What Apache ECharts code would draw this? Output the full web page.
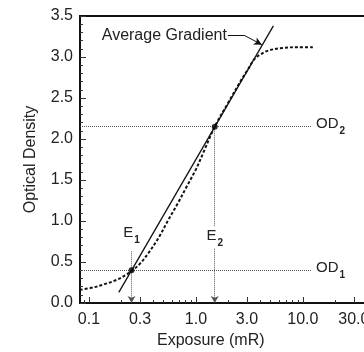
<!DOCTYPE html>
<html>
<head>
<meta charset="utf-8">
<script src="https://cdn.jsdelivr.net/npm/echarts@6/dist/echarts.min.js"></script>
<style>
  html, body { margin: 0; padding: 0; background: #fff; }
  #chart { width: 364px; height: 352px; }
</style>
</head>
<body>
<div id="chart"></div>
<script>
// exposure axis is drawn as log10(mR) on a value axis
const font = 'Liberation Sans, Arial, sans-serif';
const ink = '#222';

const exposureLabels = [0.1, 0.3, 1, 3, 10, 30];
const exposureMinorTicks = [0.09, 0.2, 0.4, 0.5, 0.6, 0.7, 0.8, 0.9, 2, 4, 5, 6, 7, 8, 9, 20, 40];

// H&D curve (dotted)
const curveExposure = [0.082, 0.11, 0.14, 0.18, 0.22, 0.25, 0.3, 0.36, 0.45, 0.55, 0.68, 0.82, 1.0, 1.17, 1.5, 2.0, 2.6, 3.1, 3.5, 4.0, 4.8, 6.5, 9.0, 12.4];
const curveDensity = [0.16, 0.19, 0.23, 0.28, 0.34, 0.39, 0.48, 0.61, 0.80, 1.01, 1.22, 1.42, 1.63, 1.83, 2.15, 2.44, 2.70, 2.86, 2.97, 3.03, 3.08, 3.11, 3.12, 3.12];

// average gradient line
const gradientExposure = [0.19, 5.3];
const gradientDensity = [0.13, 3.38];

// reference points
const E1 = 0.25, OD1 = 0.40;
const E2 = 1.5, OD2 = 2.15;
const odLineEnd = 12.2;
const e1LineTop = 0.63;
const e2LabelDensity = 0.80;
// leader from the "Average Gradient" text to the line
const leaderStart = [1.99, 3.26];
const leaderBend = [2.87, 3.26];
const leaderEnd = [4.14, 3.15];

const lg = v => Math.log10(v);
const toXY = (xs, ys) => xs.map((x, i) => [lg(x), ys[i]]);
const pt = p => [lg(p[0]), p[1]];

const refLine = { color: '#555', width: 1, type: [1, 1] };
const subRich = {
  m: { fontSize: 15, color: ink, fontFamily: font, verticalAlign: 'top', lineHeight: 16 },
  s: { fontSize: 10, fontWeight: 'bold', color: ink, fontFamily: font, verticalAlign: 'bottom', lineHeight: 20, padding: [0, 0, 0, 1] }
};

const chart = echarts.init(document.getElementById('chart'));

chart.setOption({
  animation: false,
  textStyle: { fontFamily: font },
  title: {
    text: 'Exposure (mR)',
    left: 157, top: 333, padding: 0,
    textStyle: { fontSize: 16, fontWeight: 'normal', color: ink, fontFamily: font }
  },
  grid: {
    left: 80, top: 16, width: 287, height: 287,
    outerBoundsMode: 'none',
    show: true, borderColor: '#111', borderWidth: 2
  },
  xAxis: [{
    type: 'value',
    min: -1.084, max: 1.6,
    splitLine: { show: false },
    axisLine: { onZero: false, lineStyle: { color: '#111', width: 2 } },
    axisTick: { inside: true, length: 6, lineStyle: { color: '#333' }, customValues: exposureLabels.map(lg) },
    axisLabel: {
      customValues: exposureLabels.map(lg),
      formatter: v => Math.pow(10, v).toFixed(1),
      fontSize: 16, color: ink, margin: 9, fontFamily: font
    }
  }, {
    type: 'value',
    min: -1.084, max: 1.6,
    position: 'bottom',
    splitLine: { show: false },
    axisLine: { show: false, onZero: false },
    axisTick: { inside: true, length: 3, lineStyle: { color: '#333' }, customValues: exposureMinorTicks.map(lg) },
    axisLabel: { show: false }
  }],
  yAxis: {
    type: 'value',
    min: 0, max: 3.5, interval: 0.5,
    name: 'Optical Density',
    nameLocation: 'middle',
    nameGap: 41,
    nameTextStyle: { fontSize: 16, color: ink, fontFamily: font },
    splitLine: { show: false },
    axisLine: { onZero: false, lineStyle: { color: '#111', width: 2 } },
    axisTick: { inside: true, length: 6, lineStyle: { color: '#333' } },
    minorTick: { show: true, splitNumber: 5, length: 3, lineStyle: { color: '#333' } },
    axisLabel: { formatter: v => v.toFixed(1), fontSize: 16, color: ink, margin: 7, fontFamily: font }
  },
  series: [{
    name: 'curve',
    type: 'line',
    data: toXY(curveExposure, curveDensity),
    smooth: 0.35,
    showSymbol: false,
    lineStyle: { color: '#111', width: 2, type: [3, 2] },
    z: 3
  }, {
    name: 'gradient',
    type: 'line',
    data: toXY(gradientExposure, gradientDensity),
    showSymbol: false,
    lineStyle: { color: '#111', width: 1.3 },
    z: 4,
    markPoint: {
      symbol: 'circle', symbolSize: 0,
      label: { show: true, position: 'left', distance: 1, color: ink, fontSize: 16, fontFamily: font },
      data: [{ coord: pt(leaderStart), value: 'Average Gradient' }]
    },
    markLine: {
      silent: true,
      symbol: 'none',
      label: { show: false },
      lineStyle: { color: '#111', width: 1, type: 'solid' },
      data: [
        [{ coord: pt(leaderStart) }, { coord: pt(leaderBend) }],
        [{ coord: pt(leaderBend), lineStyle: { curveness: 0.3 } },
         { coord: pt(leaderEnd), symbol: 'arrow', symbolSize: [6, 8] }]
      ]
    }
  }, {
    name: 'points',
    type: 'scatter',
    data: [[lg(E1), OD1], [lg(E2), OD2]],
    symbolSize: 6,
    itemStyle: { color: '#000' },
    z: 5,
    markLine: {
      silent: true,
      symbol: 'none',
      lineStyle: refLine,
      label: { show: false },
      data: [
        [{ coord: [-1.084, OD1] }, { coord: [lg(odLineEnd), OD1],
          label: { show: true, position: 'end', distance: 4, formatter: '{m|OD}{s|1}', rich: subRich } }],
        [{ coord: [-1.084, OD2] }, { coord: [lg(odLineEnd), OD2],
          label: { show: true, position: 'end', distance: 4, formatter: '{m|OD}{s|2}', rich: subRich } }],
        [{ coord: [lg(E1), e1LineTop], symbol: 'none' }, { coord: [lg(E1), 0], symbol: 'arrow', symbolSize: [6, 7] }],
        [{ coord: [lg(E2), OD2], symbol: 'none' }, { coord: [lg(E2), 0], symbol: 'arrow', symbolSize: [6, 7] }]
      ]
    },
    markPoint: {
      symbol: 'circle', symbolSize: 0,
      label: { show: true, rich: subRich },
      data: [
        { coord: [lg(E1), e1LineTop + 0.2], label: { formatter: '{m|E}{s|1}' } },
        { coord: [lg(E2), e2LabelDensity], label: { formatter: '{m|E}{s|2}', backgroundColor: '#fff', padding: [2, 1, 0, 1] } }
      ]
    }
  }]
});
</script>
</body>
</html>
